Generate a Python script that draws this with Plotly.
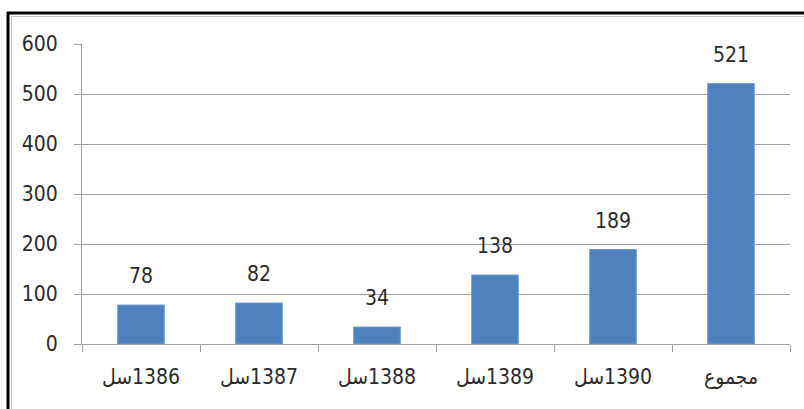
import plotly.graph_objects as go

categories = ["سل\u200e1386", "سل\u200e1387", "سل\u200e1388", "سل\u200e1389", "سل\u200e1390", "مجموع"]
values = [78, 82, 34, 138, 189, 521]
y_ticks = [0, 100, 200, 300, 400, 500, 600]

W, H = 804, 409
L, R, T, B = 82, 14, 44, 65
pw, ph = W - L - R, H - T - B

def px(x):
    return (x - L) / pw

def py(y):
    return (H - B - y) / ph

font_main = "DejaVu Sans Condensed, DejaVu Sans, sans-serif"
txt_col = "#2b2b2b"

fig = go.Figure()
fig.add_trace(go.Bar(
    x=categories, y=values,
    marker=dict(color="#4F81BD", line=dict(color="#6F9BD0", width=1)),
    width=0.395,
    hoverinfo="x+y",
))

for c, v in zip(categories, values):
    fig.add_annotation(
        x=c, y=v, text=str(v), showarrow=False,
        yanchor="middle", yshift=29,
        font=dict(size=21, family=font_main, color=txt_col),
    )

fig.update_layout(
    width=W, height=H,
    margin=dict(l=L, r=R, t=T, b=B),
    paper_bgcolor="white", plot_bgcolor="white",
    showlegend=False,
    font=dict(family=font_main, size=21, color=txt_col),
    xaxis=dict(
        type="category",
        showgrid=False,
        showline=True, linecolor="#A0A0A0", linewidth=1,
        ticks="outside", ticklen=7, tickcolor="#A0A0A0",
        tickson="boundaries",
        tickfont=dict(size=21, family=font_main, color=txt_col),
        ticklabelstandoff=14,
    ),
    yaxis=dict(
        range=[0, 600],
        tickvals=y_ticks,
        showgrid=True, gridcolor="#A0A0A0", gridwidth=1,
        showline=True, linecolor="#A0A0A0", linewidth=1,
        ticks="outside", ticklen=7, tickcolor="#A0A0A0",
        tickfont=dict(size=21, family=font_main, color=txt_col),
        ticklabelstandoff=12,
        zeroline=False,
    ),
    shapes=[
        dict(type="line", xref="paper", yref="paper",
             x0=px(8), x1=px(8), y0=py(12), y1=py(412),
             line=dict(color="black", width=3)),
        dict(type="line", xref="paper", yref="paper",
             x0=px(7), x1=px(810), y0=py(13), y1=py(13),
             line=dict(color="black", width=3)),
        dict(type="line", xref="paper", yref="paper",
             x0=px(11.5), x1=px(11.5), y0=py(16), y1=py(412),
             line=dict(color="#C8C8C8", width=1)),
        dict(type="line", xref="paper", yref="paper",
             x0=px(11), x1=px(810), y0=py(16.5), y1=py(16.5),
             line=dict(color="#C8C8C8", width=1)),
    ],
)

fig.write_html(
    "out.html",
    config={"displayModeBar": False},
    post_script="document.body.style.margin='0';document.body.style.overflow='hidden';",
)
